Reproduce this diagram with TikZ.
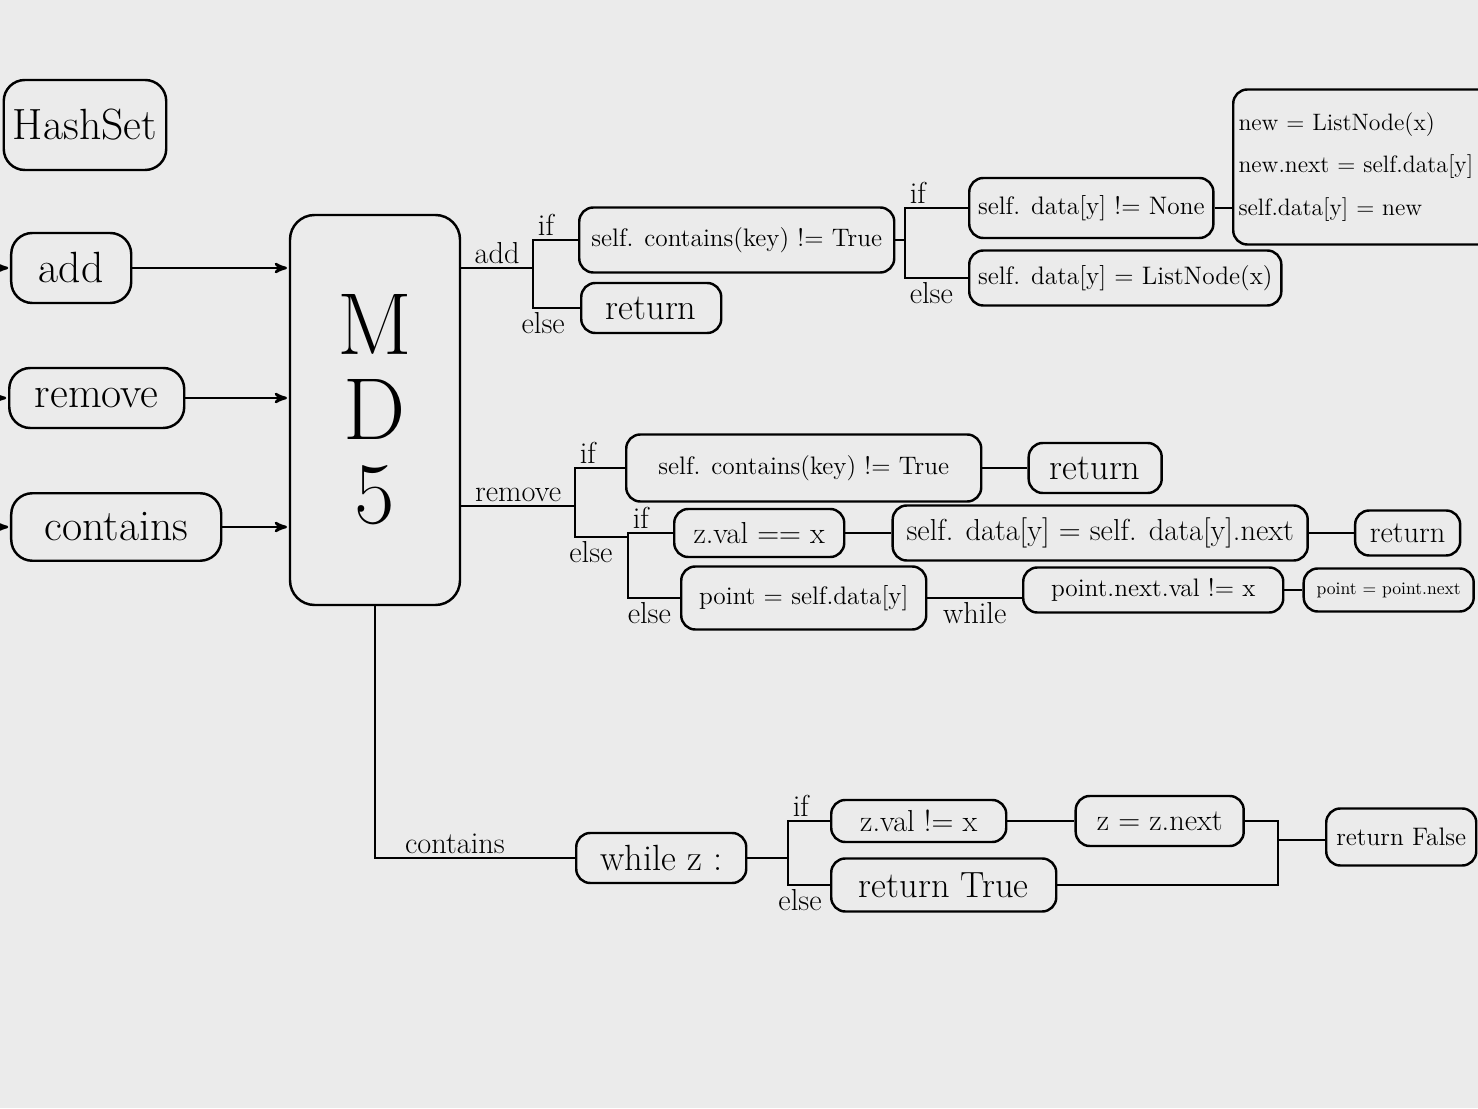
\documentclass[tikz,border=0pt]{standalone}
\usepackage{tikz}
\usetikzlibrary{arrows,positioning}
\tikzset{
    %Define standard arrow tip
    >=stealth',
    %Define style for boxes
    block/.style={
           rectangle,
           rounded corners=8pt,
           draw=black, line width=1.4pt,
           minimum height=1cm,
           inner xsep=5pt,
           font=\Large,
           text centered},
    method/.style={
           block,
           rounded corners=12pt,
           font=\Huge},
    %Define style for branch words
    word/.style={
           font=\LARGE,
           inner sep=2pt},
    % Define arrow style
    pil/.style={
           ->,
           line width=1.4pt,
           shorten >=1pt}
}

\begin{document}
\begin{tikzpicture}[line width=1.4pt, node distance=1cm]
\path[use as bounding box, fill=black!8] (0,0) rectangle (29.56,22.16);
\node[method, anchor=west, minimum width=3.25cm, minimum height=1.8cm] (hs) at (0.05,19.66) {HashSet};
\node[method, anchor=west, minimum width=2.4cm, minimum height=1.4cm] (add) at (0.2,16.8) {add};
\node[method, anchor=west, minimum width=3.5cm, minimum height=1.2cm] (rem) at (0.16,14.2) {remove};
\node[method, anchor=west, minimum width=4.2cm, minimum height=1.35cm] (con) at (0.2,11.62) {contains};
\node[block, rounded corners=14pt, minimum width=3.4cm, minimum height=7.8cm,
  font=\fontsize{50}{48}\selectfont, align=center] (md5) at (7.5,13.96) {M\\D\\5};
\coordinate (ia) at (0,16.8);
\coordinate (ir) at (0,14.2);
\coordinate (ic) at (0,11.62);
\draw[pil] (ia) -- (add);
\draw[pil] (ir) -- (rem);
\draw[pil] (ic) -- (con);
\draw[pil] (add) -- (add -| md5.west);
\draw[pil] (rem) -- (rem -| md5.west);
\draw[pil] (con) -- (con -| md5.west);

\node[block, anchor=west, minimum width=6.3cm, minimum height=1.3cm] (ck1) at (11.56,17.36) {self. contains(key) != True};
\node[block, anchor=west, minimum width=2.8cm, font=\huge] (ret1) at (11.6,16.0) {return};
\node[block, anchor=west, minimum width=4.54cm, minimum height=1.2cm] (nn) at (19.36,18.0) {self. data[y] != None};
\node[block, anchor=west, minimum width=5.74cm, minimum height=1.1cm] (ln) at (19.36,16.6) {self. data[y] = ListNode(x)};
\node[block, anchor=west, text width=5.0cm, inner xsep=3pt, minimum height=3.1cm, align=left,
  font=\fontsize{13.5}{24}\selectfont] (nw) at (24.64,18.82) {new = ListNode(x)\\new.next = self.data[y]\\self.data[y] = new};
\draw (add -| md5.east) -- node[word, above]{add} ++(1.44,0) coordinate (ja);
\draw (ck1.west) -| (ja) |- (ret1.west);
\node[word, above right] at (ja |- ck1.west) {if};
\node[word, below, xshift=0.2cm] at (ja |- ret1.west) {else};
\coordinate (jt) at (18.1,17.36);
\draw (ck1) -- (jt);
\draw (nn.west) -| (jt) |- (ln.west);
\node[word, above right] at (jt |- nn.west) {if};
\node[word, below right] at (jt |- ln.west) {else};
\draw (nn) -- (nn -| nw.west);

\node[block, anchor=west, minimum width=7.1cm, minimum height=1.34cm] (rk) at (12.5,12.8) {self. contains(key) != True};
\node[block, right=0.9cm of rk, minimum width=2.66cm, font=\huge] (rr) {return};
\node[block, anchor=west, minimum width=3.4cm, minimum height=0.96cm, font=\LARGE] (zv) at (13.46,11.5) {z.val == x};
\node[block, right=0.92cm of zv, minimum width=8.3cm, minimum height=1.1cm, inner xsep=4pt, font=\LARGE] (sd) {self. data[y] = self. data[y].next};
\node[block, right=0.9cm of sd, minimum width=2.1cm, minimum height=0.9cm, font=\LARGE] (rr2) {return};
\node[block, anchor=west, minimum width=4.9cm, minimum height=1.26cm] (pt) at (13.6,10.2) {point = self.data[y]};
\node[block, anchor=west, minimum width=5.2cm, minimum height=0.9cm] (pn) at (20.44,10.36) {point.next.val != x};
\node[block, right=0.36cm of pn, minimum width=3.4cm, minimum height=0.86cm, font=\normalsize] (pp) {point = point.next};
\coordinate (jr) at (11.5,12.04);
\coordinate (je) at (11.5,11.42);
\coordinate (jr2) at (12.56,11.42);
\draw (jr -| md5.east) -- node[word, above]{remove} (jr);
\draw (rk.west) -| (je) -- node[word, below, pos=0.3]{else} (jr2);
\draw (zv.west) -| (jr2) |- (pt.west);
\node[word, above right] at (je |- rk.west) {if};
\node[word, above right] at (jr2 |- zv.west) {if};
\node[word, below right, xshift=-0.1cm] at (jr2 |- pt.west) {else};
\draw (rk) -- (rr);
\draw (zv) -- (sd);
\draw (sd) -- (rr2);
\draw (pt.east) -- node[word, below]{while} (pt.east -| pn.west);
\draw (pn) -- (pp);

\node[block, anchor=west, minimum width=3.4cm, font=\huge] (wz) at (11.5,5.0) {while z :};
\node[block, anchor=west, minimum width=3.5cm, minimum height=0.84cm, font=\LARGE] (zn) at (16.6,5.74) {z.val != x};
\node[block, right=1.34cm of zn, minimum width=3.36cm, font=\LARGE] (zz) {z = z.next};
\node[block, anchor=west, minimum width=4.5cm, minimum height=1.06cm, font=\huge] (rt) at (16.6,4.46) {return True};
\node[block, anchor=west, minimum width=3.0cm, minimum height=1.14cm] (rf) at (26.5,5.42) {return False};
\coordinate (jc) at (15.76,5.0);
\coordinate (jj) at (25.56,5.36);
\draw (md5.south) |- node[word, above, pos=0.7]{contains} (wz.west);
\draw (wz) -- (jc);
\draw (zn.west) -| (jc) |- (rt.west);
\node[word, above right] at (jc |- zn.west) {if};
\node[word, below, xshift=0.24cm] at (jc |- rt.west) {else};
\draw (zn) -- (zz);
\draw (zz.east) -| (jj) |- (rt.east);
\draw (jj) -- (jj -| rf.west);
\end{tikzpicture}
\end{document}
